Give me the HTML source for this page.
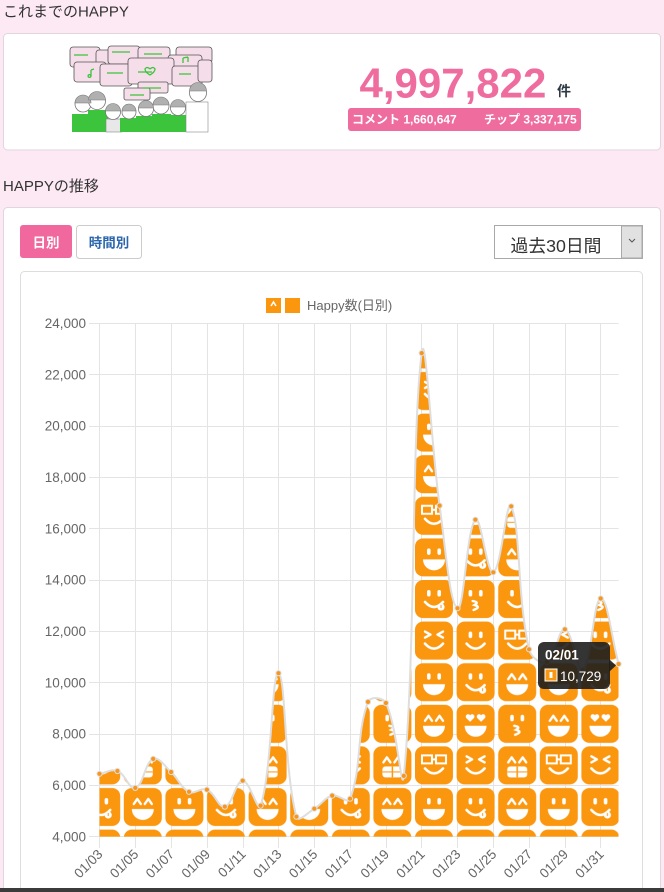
<!DOCTYPE html>
<html><head><meta charset="utf-8">
<style>
html,body{margin:0;padding:0;background:#fde9f4;}
body{width:664px;height:892px;overflow:hidden;}
svg{display:block;}
text{font-family:"Liberation Sans","Noto Sans CJK JP",sans-serif;}
</style></head>
<body>
<svg width="664" height="892" viewBox="0 0 664 892" xmlns="http://www.w3.org/2000/svg">
<defs>
  <rect id="tile" x="1" y="1" width="38" height="38" rx="8" fill="#fb960f"/>
  <g id="eDots" fill="#fff"><rect x="13" y="11" width="3.6" height="6.5" rx="1.8"/><rect x="23.4" y="11" width="3.6" height="6.5" rx="1.8"/></g>
  <g id="eCaret" fill="none" stroke="#fff" stroke-width="2.4" stroke-linecap="round" stroke-linejoin="round"><polyline points="11,17 14.5,12 18,17"/><polyline points="22,17 25.5,12 29,17"/></g>
  <g id="eX" fill="none" stroke="#fff" stroke-width="2.4" stroke-linecap="round" stroke-linejoin="round"><polyline points="11,11 16.5,14 11,17"/><polyline points="29,11 23.5,14 29,17"/></g>
  <g id="eGl" fill="none" stroke="#fff" stroke-width="2"><rect x="8" y="10" width="10" height="8"/><rect x="22" y="10" width="10" height="8"/><line x1="18" y1="14" x2="22" y2="14"/></g>
  <g id="eHeart" fill="#fff"><path d="M14.5,18 L10.6,14.2 A2.2,2.2 0 0 1 14.5,11.4 A2.2,2.2 0 0 1 18.4,14.2 Z"/><path d="M25.5,18 L21.6,14.2 A2.2,2.2 0 0 1 25.5,11.4 A2.2,2.2 0 0 1 29.4,14.2 Z"/></g>
  <path id="mBig" d="M9,22 H31 A11,11 0 0 1 9,22 Z" fill="#fff"/>
  <path id="mSmile" d="M11,23 Q20,33 29,23" fill="none" stroke="#fff" stroke-width="2.6" stroke-linecap="round"/>
  <g id="mTongue"><circle cx="27" cy="28" r="3.6" fill="#fff"/><line x1="27" y1="26" x2="27" y2="29" stroke="#fb960f" stroke-width="1"/></g>
  <path id="mKiss" d="M17,22 Q24,23 19,26 Q26,28 18,31" fill="none" stroke="#fff" stroke-width="2.4" stroke-linecap="round"/>
  <g id="mTeeth"><rect x="10" y="21" width="20" height="11" rx="3" fill="#fff"/><line x1="20" y1="21" x2="20" y2="32" stroke="#fb960f" stroke-width="1.5"/><line x1="10" y1="26.5" x2="30" y2="26.5" stroke="#fb960f" stroke-width="1"/></g>

  <g id="fDotsBig"><use href="#tile"/><use href="#eDots"/><use href="#mBig"/></g>
  <g id="fCaretBig"><use href="#tile"/><use href="#eCaret"/><use href="#mBig"/></g>
  <g id="fLick"><use href="#tile"/><use href="#eDots"/><use href="#mSmile"/><use href="#mTongue"/></g>
  <g id="fSmile"><use href="#tile"/><use href="#eDots"/><use href="#mSmile"/></g>
  <g id="fX"><use href="#tile"/><use href="#eX"/><use href="#mSmile"/></g>
  <g id="fGl"><use href="#tile"/><use href="#eGl"/><use href="#mSmile"/></g>
  <g id="fHeart"><use href="#tile"/><use href="#eHeart"/><use href="#mBig"/></g>
  <g id="fKiss"><use href="#tile"/><use href="#eDots"/><use href="#mKiss"/></g>
  <g id="fTeeth"><use href="#tile"/><use href="#eCaret"/><use href="#mTeeth"/></g>

  <pattern id="pat" patternUnits="userSpaceOnUse" x="39.6" y="79.8" width="124.8" height="249.6">
    <use href="#fLick" x="0" y="0"/><use href="#fKiss" x="41.6" y="0"/><use href="#fSmile" x="83.2" y="0"/>
    <use href="#fX" x="0" y="41.6"/><use href="#fSmile" x="41.6" y="41.6"/><use href="#fGl" x="83.2" y="41.6"/>
    <use href="#fDotsBig" x="0" y="83.2"/><use href="#fLick" x="41.6" y="83.2"/><use href="#fCaretBig" x="83.2" y="83.2"/>
    <use href="#fCaretBig" x="0" y="124.8"/><use href="#fHeart" x="41.6" y="124.8"/><use href="#fKiss" x="83.2" y="124.8"/>
    <use href="#fGl" x="0" y="166.4"/><use href="#fX" x="41.6" y="166.4"/><use href="#fTeeth" x="83.2" y="166.4"/>
    <use href="#fDotsBig" x="0" y="208"/><use href="#fLick" x="41.6" y="208"/><use href="#fCaretBig" x="83.2" y="208"/>
  </pattern>
  <clipPath id="plot"><rect x="99.5" y="323.3" width="519.1" height="513.4"/></clipPath>
</defs>

<text x="3" y="16.5" font-size="15" fill="#333">これまでのHAPPY</text>

<rect x="3.5" y="33.5" width="657" height="116.5" rx="4" fill="#fff" stroke="#e0d6db"/>

<!-- illustration -->
<g stroke="#555" stroke-width="0.8" fill="#f5dde9">
  <rect x="70" y="47" width="30" height="20" rx="3"/>
  <rect x="96" y="50" width="18" height="16" rx="3"/>
  <rect x="108" y="46" width="32" height="18" rx="3"/>
  <rect x="138" y="47" width="32" height="18" rx="3"/>
  <rect x="176" y="47" width="36" height="16" rx="3"/>
  <rect x="168" y="55" width="34" height="20" rx="3"/>
  <rect x="74" y="62" width="32" height="20" rx="3"/>
  <rect x="100" y="64" width="32" height="22" rx="3"/>
  <rect x="128" y="58" width="46" height="26" rx="3"/>
  <rect x="172" y="66" width="30" height="20" rx="3"/>
  <rect x="198" y="60" width="14" height="22" rx="3"/>
  <rect x="138" y="82" width="30" height="11" rx="2"/>
  <rect x="124" y="88" width="26" height="12" rx="2"/>
</g>
<g stroke="#3cc43c" stroke-width="1.3" fill="none">
  <path d="M91,70 v6 M91,70 l3,-1"/><circle cx="89.5" cy="76" r="1.4"/>
  <path d="M150,69 q-3,-3 -5,0 q0,3 5,6 q5,-3 5,-6 q-2,-3 -5,0"/>
  <path d="M183,58 v5 M188,57 v5 M183,58 l5,-1"/>
  <path d="M74,55 h14 M112,52 h18 M144,54 h18 M107,73 h16 M138,72 h14 M143,88 h18 M130,95 h14 M179,74 h12"/>
</g>
<g>
  <rect x="72" y="114" width="22" height="18" fill="#3cc43c"/>
  <rect x="88" y="110" width="20" height="22" fill="#3cc43c"/>
  <rect x="106" y="119" width="16" height="13" fill="#e8e8e8" stroke="#888" stroke-width="0.6"/>
  <rect x="120" y="118" width="16" height="14" fill="#3cc43c"/>
  <rect x="136" y="116" width="19" height="16" fill="#3cc43c"/>
  <rect x="152" y="114" width="19" height="18" fill="#3cc43c"/>
  <rect x="169" y="115" width="19" height="17" fill="#3cc43c"/>
  <rect x="186" y="102" width="22" height="30" fill="#fff" stroke="#888" stroke-width="0.6"/>
  <g fill="#fff" stroke="#777" stroke-width="0.8">
    <circle cx="83" cy="104" r="8"/><circle cx="97" cy="101" r="8.5"/><circle cx="113" cy="112" r="7.5"/>
    <circle cx="129" cy="112" r="7"/><circle cx="146" cy="109" r="7.5"/><circle cx="161" cy="106" r="8"/>
    <circle cx="178" cy="108" r="7.5"/><circle cx="198" cy="93" r="8.5"/>
  </g>
  <g fill="#b0b0b0" stroke="#777" stroke-width="0.6">
    <path d="M75,103 a8,8 0 0 1 16,0 z"/><path d="M88.5,100 a8.5,8.5 0 0 1 17,0 z"/>
    <path d="M105.5,111 a7.5,7.5 0 0 1 15,0 z"/><path d="M122,111 a7,7 0 0 1 14,0 z"/>
    <path d="M138.5,108 a7.5,7.5 0 0 1 15,0 z"/><path d="M153,105 a8,8 0 0 1 16,0 z"/>
    <path d="M170.5,107 a7.5,7.5 0 0 1 15,0 z"/><path d="M189.5,91 a8.5,8.5 0 0 1 17,0 z"/>
  </g>
</g>

<text x="359.5" y="97.7" font-size="42" font-weight="bold" fill="#ef6c9e">4,997,822</text>
<text x="557" y="96" font-size="14" font-weight="bold" fill="#2d3a44">件</text>
<rect x="348" y="108" width="233" height="23" rx="3" fill="#ef6c9e"/>
<text x="352" y="123.5" font-size="12" font-weight="bold" fill="#fff">コメント 1,660,647</text>
<text x="484" y="123.5" font-size="12" font-weight="bold" fill="#fff">チップ 3,337,175</text>

<text x="3" y="191" font-size="15" fill="#333">HAPPYの推移</text>

<rect x="3.5" y="207.5" width="657" height="720" rx="4" fill="#fff" stroke="#e0d6db"/>

<rect x="20" y="225" width="52" height="33" rx="3" fill="#f0689d"/>
<text x="46" y="247.5" font-size="13.5" font-weight="bold" fill="#fff" text-anchor="middle">日別</text>
<rect x="76.5" y="225.5" width="65" height="33" rx="3" fill="#fff" stroke="#ccc"/>
<text x="109" y="247.5" font-size="13.5" font-weight="bold" fill="#2b66ad" text-anchor="middle">時間別</text>

<rect x="494.5" y="225.5" width="148" height="33" fill="#fff" stroke="#a9a9a9"/>
<rect x="621.5" y="226" width="20.5" height="32" fill="#e1e1e1" stroke="#a9a9a9"/>
<polyline points="629,239 632,242 635,239" fill="none" stroke="#555" stroke-width="1"/>
<text x="510.5" y="252" font-size="17.8" fill="#333">過去30日間</text>

<rect x="20.5" y="271.5" width="622" height="660" rx="4" fill="#fff" stroke="#ddd"/>

<rect x="266" y="298" width="15" height="15" fill="#fb960f"/>
<rect x="285" y="298" width="15" height="15" fill="#fb960f"/>
<polyline points="271,306 273.5,302 276,306" fill="none" stroke="#fff" stroke-width="1.6"/>
<text x="307" y="310" font-size="13" fill="#666">Happy数(日別)</text>

<g stroke="#e4e4e4" stroke-width="1">
  <line x1="89" y1="323.5" x2="618.6" y2="323.5"/>
  <line x1="89" y1="374.5" x2="618.6" y2="374.5"/>
  <line x1="89" y1="426.5" x2="618.6" y2="426.5"/>
  <line x1="89" y1="477.5" x2="618.6" y2="477.5"/>
  <line x1="89" y1="528.5" x2="618.6" y2="528.5"/>
  <line x1="89" y1="580.5" x2="618.6" y2="580.5"/>
  <line x1="89" y1="631.5" x2="618.6" y2="631.5"/>
  <line x1="89" y1="682.5" x2="618.6" y2="682.5"/>
  <line x1="89" y1="734.5" x2="618.6" y2="734.5"/>
  <line x1="89" y1="785.5" x2="618.6" y2="785.5"/>
  <line x1="89" y1="836.5" x2="618.6" y2="836.5"/>
  <line x1="99.5" y1="323" x2="99.5" y2="848"/>
  <line x1="135.5" y1="323" x2="135.5" y2="848"/>
  <line x1="171.5" y1="323" x2="171.5" y2="848"/>
  <line x1="207.5" y1="323" x2="207.5" y2="848"/>
  <line x1="243.5" y1="323" x2="243.5" y2="848"/>
  <line x1="278.5" y1="323" x2="278.5" y2="848"/>
  <line x1="314.5" y1="323" x2="314.5" y2="848"/>
  <line x1="350.5" y1="323" x2="350.5" y2="848"/>
  <line x1="386.5" y1="323" x2="386.5" y2="848"/>
  <line x1="421.5" y1="323" x2="421.5" y2="848"/>
  <line x1="457.5" y1="323" x2="457.5" y2="848"/>
  <line x1="493.5" y1="323" x2="493.5" y2="848"/>
  <line x1="529.5" y1="323" x2="529.5" y2="848"/>
  <line x1="565.5" y1="323" x2="565.5" y2="848"/>
  <line x1="600.5" y1="323" x2="600.5" y2="848"/>
</g>

<g font-size="13.5" fill="#666" text-anchor="end">
  <text x="86" y="328">24,000</text>
  <text x="86" y="379.3">22,000</text>
  <text x="86" y="430.7">20,000</text>
  <text x="86" y="482">18,000</text>
  <text x="86" y="533.4">16,000</text>
  <text x="86" y="584.7">14,000</text>
  <text x="86" y="636">12,000</text>
  <text x="86" y="687.4">10,000</text>
  <text x="86" y="738.7">8,000</text>
  <text x="86" y="790.1">6,000</text>
  <text x="86" y="841.4">4,000</text>
</g>

<g font-size="13.5" fill="#666" text-anchor="end">
  <text transform="translate(103.5,855) rotate(-45)">01/03</text>
  <text transform="translate(139.3,855) rotate(-45)">01/05</text>
  <text transform="translate(175.1,855) rotate(-45)">01/07</text>
  <text transform="translate(210.9,855) rotate(-45)">01/09</text>
  <text transform="translate(246.7,855) rotate(-45)">01/11</text>
  <text transform="translate(282.5,855) rotate(-45)">01/13</text>
  <text transform="translate(318.3,855) rotate(-45)">01/15</text>
  <text transform="translate(354.1,855) rotate(-45)">01/17</text>
  <text transform="translate(389.9,855) rotate(-45)">01/19</text>
  <text transform="translate(425.7,855) rotate(-45)">01/21</text>
  <text transform="translate(461.5,855) rotate(-45)">01/23</text>
  <text transform="translate(497.3,855) rotate(-45)">01/25</text>
  <text transform="translate(533.1,855) rotate(-45)">01/27</text>
  <text transform="translate(568.9,855) rotate(-45)">01/29</text>
  <text transform="translate(604.7,855) rotate(-45)">01/31</text>
</g>

<path id="ar" clip-path="url(#plot)" fill="url(#pat)" d="M99.5,773.8 L117.4,771 L135.3,787.9 L153.2,758.9 L171.1,772 L189,791.8 L206.9,789.7 L224.8,806.7 L242.7,780.7 L260.6,805.6 L278.5,673.2 L296.4,816.7 L314.3,808.7 L332.2,795.6 L350.1,798.7 L368,701.9 L385.9,703 L403.8,775.9 L421.7,353.1 L439.6,505.6 L457.5,608.2 L475.4,519.7 L493.3,572.3 L511.2,506.3 L529.1,649.3 L547,662.1 L564.9,629.3 L582.8,669.8 L600.7,598.5 L618.6,664 L618.6,836.7 L99.5,836.7 Z"/>
<path id="ln" fill="none" stroke="#dedede" stroke-width="2" d="M99.5,773.8 L117.4,771 L135.3,787.9 L153.2,758.9 L171.1,772 L189,791.8 L206.9,789.7 L224.8,806.7 L242.7,780.7 L260.6,805.6 L278.5,673.2 L296.4,816.7 L314.3,808.7 L332.2,795.6 L350.1,798.7 L368,701.9 L385.9,703 L403.8,775.9 L421.7,353.1 L439.6,505.6 L457.5,608.2 L475.4,519.7 L493.3,572.3 L511.2,506.3 L529.1,649.3 L547,662.1 L564.9,629.3 L582.8,669.8 L600.7,598.5 L618.6,664"/>
<g fill="#f8951c" stroke="#e0e0e0" stroke-width="1">
  <circle cx="99.5" cy="773.8" r="2.6"/><circle cx="117.4" cy="771" r="2.6"/><circle cx="135.3" cy="787.9" r="2.6"/>
  <circle cx="153.2" cy="758.9" r="2.6"/><circle cx="171.1" cy="772" r="2.6"/><circle cx="189" cy="791.8" r="2.6"/>
  <circle cx="206.9" cy="789.7" r="2.6"/><circle cx="224.8" cy="806.7" r="2.6"/><circle cx="242.7" cy="780.7" r="2.6"/>
  <circle cx="260.6" cy="805.6" r="2.6"/><circle cx="278.5" cy="673.2" r="2.6"/><circle cx="296.4" cy="816.7" r="2.6"/>
  <circle cx="314.3" cy="808.7" r="2.6"/><circle cx="332.2" cy="795.6" r="2.6"/><circle cx="350.1" cy="798.7" r="2.6"/>
  <circle cx="368" cy="701.9" r="2.6"/><circle cx="385.9" cy="703" r="2.6"/><circle cx="403.8" cy="775.9" r="2.6"/>
  <circle cx="421.7" cy="353.1" r="2.6"/><circle cx="439.6" cy="505.6" r="2.6"/><circle cx="457.5" cy="608.2" r="2.6"/>
  <circle cx="475.4" cy="519.7" r="2.6"/><circle cx="493.3" cy="572.3" r="2.6"/><circle cx="511.2" cy="506.3" r="2.6"/>
  <circle cx="529.1" cy="649.3" r="2.6"/><circle cx="547" cy="662.1" r="2.6"/><circle cx="564.9" cy="629.3" r="2.6"/>
  <circle cx="582.8" cy="669.8" r="2.6"/><circle cx="600.7" cy="598.5" r="2.6"/><circle cx="618.6" cy="664" r="2.6"/>
</g>

<g>
  <rect x="538" y="642" width="72" height="47" rx="6" fill="#1e1e1e" fill-opacity="0.9"/>
  <polygon points="609,659 616,665.5 609,672" fill="#1e1e1e" fill-opacity="0.9"/>
  <text x="545" y="659.5" font-size="13.5" font-weight="bold" fill="#fff">02/01</text>
  <rect x="545" y="669" width="12" height="12" fill="#fb960f" stroke="#fff" stroke-width="1"/>
  <rect x="549.5" y="672" width="3" height="6" fill="#fff"/>
  <text x="560" y="681" font-size="13.5" fill="#fff">10,729</text>
</g>

<rect x="0" y="888" width="664" height="4" fill="#3b3b3b"/>
</svg>
<script>
(function(){
  var v=[6450,6560,5900,7030,6520,5750,5830,5170,6180,5210,10370,4780,5090,5600,5480,9250,9210,6370,22840,16900,12900,16350,14300,16870,11300,10800,12080,10500,13280,10729];
  var X0=99.5,DX=17.9,YT=323.3,YB=836.7,XR=618.6;
  var p=v.map(function(val,i){return [X0+i*DX, YT+(24000-val)/20000*(YB-YT)];});
  var n=p.length,cp=[],i;
  for(i=0;i<n;i++){
    var a=p[Math.max(i-1,0)],b=p[i],c=p[Math.min(i+1,n-1)];
    var d01=Math.sqrt(Math.pow(b[0]-a[0],2)+Math.pow(b[1]-a[1],2));
    var d12=Math.sqrt(Math.pow(c[0]-b[0],2)+Math.pow(c[1]-b[1],2));
    var s01=d01/(d01+d12)||0,s12=d12/(d01+d12)||0;
    var fa=0.4*s01,fb=0.4*s12;
    var pr=[b[0]-fa*(c[0]-a[0]),b[1]-fa*(c[1]-a[1])];
    var nx=[b[0]+fb*(c[0]-a[0]),b[1]+fb*(c[1]-a[1])];
    [pr,nx].forEach(function(q){q[0]=Math.min(Math.max(q[0],X0),XR);q[1]=Math.min(Math.max(q[1],YT),YB);});
    cp.push([pr,nx]);
  }
  function f(q){return q[0].toFixed(2)+','+q[1].toFixed(2);}
  var d='M'+f(p[0]);
  for(i=1;i<n;i++){d+=' C'+f(cp[i-1][1])+' '+f(cp[i][0])+' '+f(p[i]);}
  document.getElementById('ln').setAttribute('d',d);
  document.getElementById('ar').setAttribute('d',d+' L'+XR+','+YB+' L'+X0+','+YB+' Z');
})();
</script>
</body></html>
